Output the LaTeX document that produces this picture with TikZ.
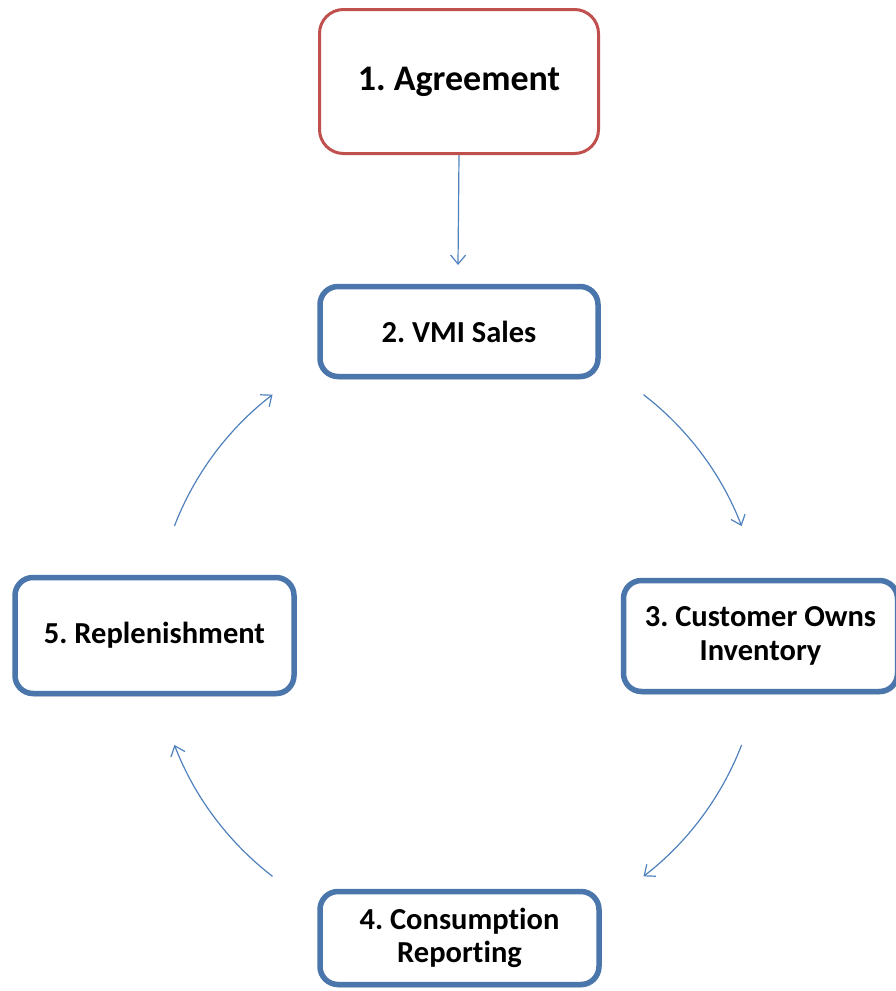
\documentclass[tikz,border=0pt]{standalone}
\usepackage{fontspec}
\setmainfont{Carlito}[Ligatures=NoCommon]
\usetikzlibrary{arrows.meta,shadows,calc}
\definecolor{boxblue}{RGB}{74,118,172}
\definecolor{boxred}{RGB}{192,80,77}
\definecolor{arrowblue}{RGB}{79,129,189}
\frenchspacing
\begin{document}
\begin{tikzpicture}[x=1pt,y=-1pt,
  bluebox/.style={draw=boxblue, line width=5.5pt, rounded corners=18pt, fill=white,
    align=center, inner sep=0pt, font=\fontsize{30.5}{33.5}\selectfont\bfseries,
    drop shadow={shadow xshift=1pt,shadow yshift=-3pt,opacity=0.25,fill=black!60}},
  redbox/.style={draw=boxred, line width=3pt, rounded corners=24pt, fill=white,
    align=center, inner sep=0pt, font=\fontsize{36}{40}\selectfont\bfseries},
  flow/.style={draw=arrowblue, line width=1.2pt, -{Straight Barb[length=9pt,width=15pt,line width=1.2pt]}}
]
\useasboundingbox (0,0) rectangle (895,991);

\node[redbox, minimum width=279pt, minimum height=144pt] (n1) at (459,81.5) {1. Agreement};
\node[bluebox, minimum width=278pt, minimum height=90pt] (n2) at (459,331.5) {2. VMI Sales};
\node[bluebox, minimum width=274pt, minimum height=111pt] (n3) at (760.5,636) {3. Customer Owns\\Inventory};
\node[bluebox, minimum width=279pt, minimum height=93pt] (n4) at (459.5,938) {4. Consumption\\Reporting};
\node[bluebox, minimum width=279pt, minimum height=116pt] (n5) at (154.5,635.5) {5. Replenishment};

\coordinate (ctr) at (458,635.5);
\coordinate (t1) at (458,265);
\draw[flow] (n1.south) -- (t1);

\coordinate (s23) at ($(ctr)+(52.4:304pt)$);
\coordinate (s34) at ($(ctr)+(-21.1:304pt)$);
\coordinate (s45) at ($(ctr)+(-127.6:304pt)$);
\coordinate (s52) at ($(ctr)+(158.9:304pt)$);

\draw[flow] (s23) arc[start angle=52.4, end angle=21.1, radius=304pt];
\draw[flow] (s34) arc[start angle=-21.1, end angle=-52.4, radius=304pt];
\draw[flow] (s45) arc[start angle=-127.6, end angle=-158.9, radius=304pt];
\draw[flow] (s52) arc[start angle=158.9, end angle=127.6, radius=304pt];
\end{tikzpicture}
\end{document}
